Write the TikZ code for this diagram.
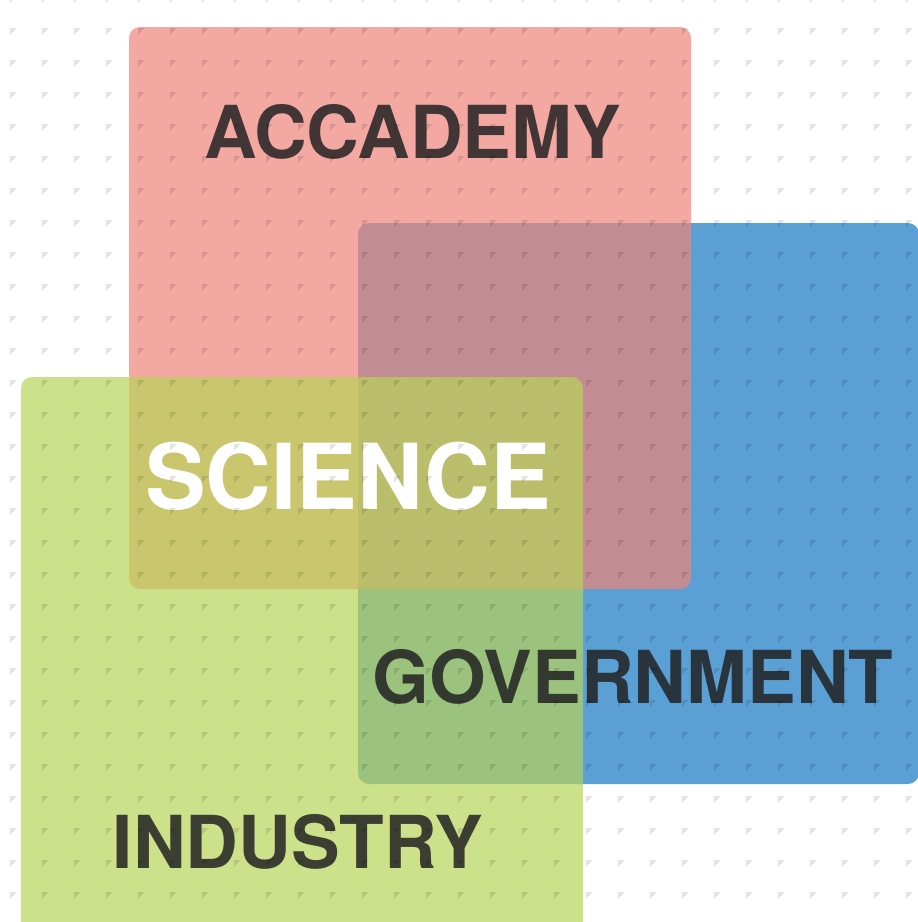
\documentclass[tikz,border=0pt]{standalone}
\usepackage{fontspec}
\setmainfont{TeX Gyre Heros}
\definecolor{pinkbase}{RGB}{239,132,123}
\definecolor{bluebase}{RGB}{21,121,194}
\definecolor{greenbase}{RGB}{184,211,89}
\definecolor{labelgray}{RGB}{34,34,34}
\begin{document}
\begin{tikzpicture}[x=1pt,y=-1pt,
  box/.style={rounded corners=11pt, fill opacity=0.7},
  biglabel/.style={font=\fontsize{73}{73}\selectfont\bfseries, text=labelgray, text opacity=0.85, inner sep=0pt, anchor=base},
  sciencelabel/.style={font=\fontsize{91}{91}\selectfont\bfseries, text=white, inner sep=0pt, anchor=base},
  patternmark/.style={fill=black, fill opacity=0.11}]
\useasboundingbox (0,0) rectangle (918,922);
\clip (0,0) rectangle (918,922);
\fill[white] (0,0) rectangle (918,922);
% boxes
\fill[box, bluebase] (358,223) rectangle (919,784);
\fill[box, pinkbase] (129,27) rectangle (691,589);
\fill[box, greenbase] (21,377) rectangle (583,939);
% labels
\node[biglabel] (academy) at (412.5,158) {ACCADEMY};
\node[sciencelabel] (science) at (348,509) {SCIENCE};
\node[biglabel] (government) at (633,703) {GOVERNMENT};
\node[biglabel] (industry) at (298,868) {INDUSTRY};
% pattern of small corner marks on top
\foreach \i in {0,...,28}{
  \foreach \j in {0,...,29}{
    \fill[patternmark] ({10+32*\i},{-4+32*\j}) -- ++(6.5,0) -- ++(-6.5,6.5) -- cycle;
  }
}
\end{tikzpicture}
\end{document}
